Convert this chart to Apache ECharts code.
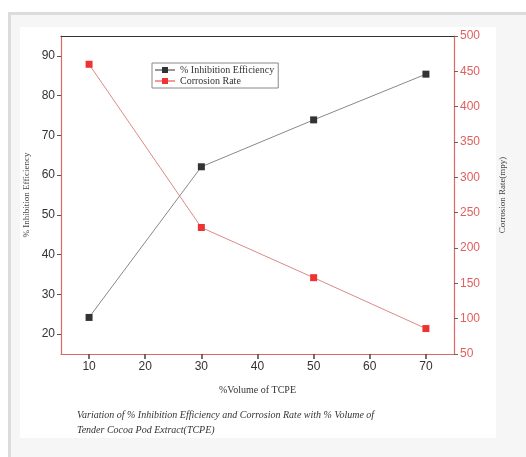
<!DOCTYPE html>
<html>
<head>
<meta charset="utf-8">
<script src="https://cdn.jsdelivr.net/npm/echarts@6/dist/echarts.min.js"></script>
<style>
  html, body { margin: 0; padding: 0; background: #fff; }
  .frame { position: absolute; left: 8px; top: 12px; width: 518px; height: 445px;
           background: #f6f6f6; border-left: 3px solid #dcdcdc; border-top: 3px solid #dcdcdc; box-sizing: border-box; }
  .panel { position: absolute; left: 20px; top: 27px; width: 476px; height: 411px; background: #fff; }
  #chart { position: absolute; left: 0; top: 0; width: 526px; height: 457px; }
</style>
</head>
<body>
<div class="frame"></div>
<div class="panel"></div>
<div id="chart"></div>
<script>
// % volume of TCPE
var volume = [10, 30, 50, 70];
// % inhibition efficiency
var inhibition = [24.2, 62.1, 73.9, 85.4];
// corrosion rate (mpy)
var corrosion = [460, 229, 158, 86];
// tick labels
var xTicks = [10, 20, 30, 40, 50, 60, 70];
var leftTicks = [20, 30, 40, 50, 60, 70, 80, 90];

var chart = echarts.init(document.getElementById('chart'));

var redAxis = '#e06666';
var serif = '"Liberation Serif", "DejaVu Serif", serif';
var sans = '"Liberation Sans", Arial, sans-serif';
// line with a square on it, like the original legend keys
var legendIcon = 'path://M0,4.4L20,4.4L20,5.6L0,5.6Z M7,2L13,2L13,8L7,8Z';

var option = {
  backgroundColor: 'transparent',
  animation: false,
  grid: { left: 61, right: 72, top: 36, bottom: 103 },
  legend: {
    left: 152, top: 63,
    orient: 'vertical',
    itemWidth: 20, itemHeight: 8, itemGap: 1,
    padding: [2, 4, 2, 3],
    borderColor: '#888', borderWidth: 1,
    backgroundColor: '#fff',
    textStyle: { fontFamily: serif, fontSize: 10, color: '#333' },
    data: [
      { name: '% Inhibition Efficiency', icon: legendIcon, itemStyle: { color: '#333' } },
      { name: 'Corrosion Rate', icon: legendIcon, itemStyle: { color: '#e33' } }
    ]
  },
  xAxis: [
    {
      type: 'value', min: 5, max: 75,
      name: '%Volume of TCPE', nameLocation: 'middle', nameGap: 31,
      nameTextStyle: { fontFamily: serif, fontSize: 10, color: '#333' },
      axisLine: { lineStyle: { color: redAxis, width: 1.2 } },
      axisTick: { show: true, inside: false, length: 5, customValues: xTicks, lineStyle: { color: '#444', width: 1.5 } },
      axisLabel: { fontFamily: sans, fontSize: 12, color: '#333', margin: 7, customValues: xTicks },
      splitLine: { show: false }
    },
    {
      type: 'value', position: 'top', min: 5, max: 75,
      axisLine: { show: true, lineStyle: { color: '#333', width: 1.2 } },
      axisTick: { show: false }, axisLabel: { show: false }, splitLine: { show: false }
    }
  ],
  yAxis: [
    {
      type: 'value', min: 15, max: 95,
      name: '% Inhibition Efficiency', nameLocation: 'middle', nameGap: 30,
      nameTextStyle: { fontFamily: serif, fontSize: 9, color: '#444' },
      axisLine: { show: true, lineStyle: { color: redAxis, width: 1.2 } },
      axisTick: { show: true, length: 4, customValues: leftTicks, lineStyle: { color: '#555' } },
      axisLabel: { fontFamily: sans, fontSize: 12, color: '#333', margin: 6, customValues: leftTicks },
      splitLine: { show: false }
    },
    {
      type: 'value', min: 50, max: 500, interval: 50, position: 'right',
      name: 'Corrosion Rate(mpy)', nameLocation: 'middle', nameGap: 44, nameRotate: 90,
      nameTextStyle: { fontFamily: serif, fontSize: 9, color: '#444' },
      axisLine: { show: true, lineStyle: { color: redAxis, width: 1.2 } },
      axisTick: { show: true, length: 4, lineStyle: { color: '#666' } },
      axisLabel: { fontFamily: sans, fontSize: 12, color: '#e06060', margin: 6 },
      splitLine: { show: false }
    }
  ],
  series: [
    {
      name: '% Inhibition Efficiency', type: 'line',
      xAxisIndex: 0, yAxisIndex: 0,
      data: volume.map(function (v, i) { return [v, inhibition[i]]; }),
      symbol: 'rect', symbolSize: 7,
      itemStyle: { color: '#333' },
      lineStyle: { color: '#888', width: 1 }
    },
    {
      name: 'Corrosion Rate', type: 'line',
      xAxisIndex: 0, yAxisIndex: 1,
      data: volume.map(function (v, i) { return [v, corrosion[i]]; }),
      symbol: 'rect', symbolSize: 7,
      itemStyle: { color: '#e33' },
      lineStyle: { color: '#d88', width: 1 }
    }
  ],
  graphic: [
    {
      type: 'text', left: 77, top: 408,
      style: {
        text: 'Variation of % Inhibition Efficiency and Corrosion Rate with % Volume of\nTender Cocoa Pod Extract(TCPE)',
        font: 'italic 10px ' + serif, fill: '#333', lineHeight: 15
      }
    }
  ]
};

chart.setOption(option);
</script>
</body>
</html>
